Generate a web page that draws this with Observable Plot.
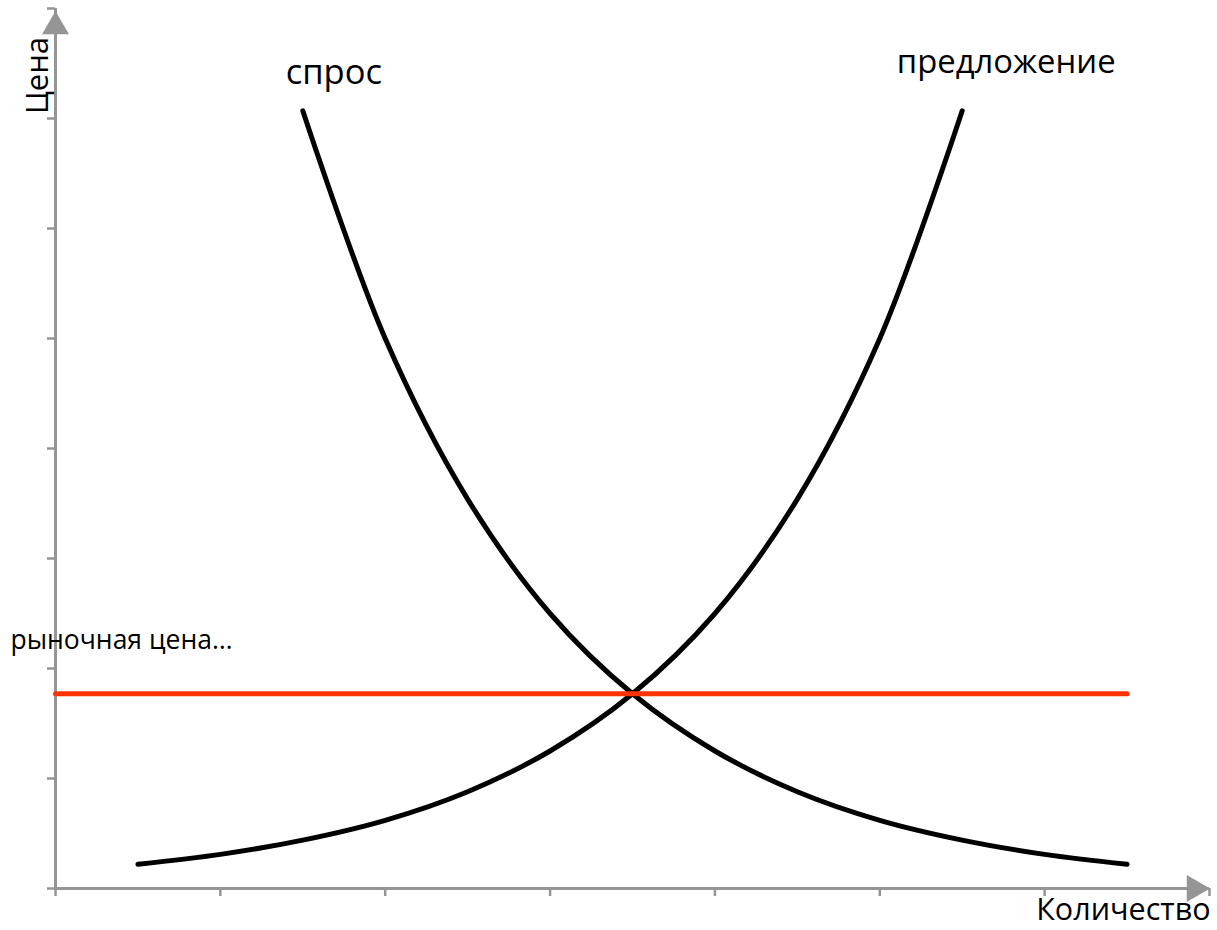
<!DOCTYPE html>
<html>
<head>
<meta charset="utf-8">
<script src="https://cdn.jsdelivr.net/npm/d3@7"></script>
<script src="https://cdn.jsdelivr.net/npm/@observablehq/plot@0.6"></script>
<style>
  html, body { margin: 0; padding: 0; background: #fff; }
  #chart svg { display: block; }
</style>
</head>
<body>
<div id="chart"></div>
<script>
// ---- data ----
const quantityDemand = [1.5, 2, 2.5, 3, 3.5, 4, 4.5, 5, 5.5, 6, 6.5];
const priceDemand    = [7.07, 5.0, 3.54, 2.5, 1.77, 1.25, 0.88, 0.62, 0.44, 0.31, 0.22];
const quantitySupply = [0.5, 1, 1.5, 2, 2.5, 3, 3.5, 4, 4.5, 5, 5.5];
const priceSupply    = [0.22, 0.31, 0.44, 0.62, 0.88, 1.25, 1.77, 2.5, 3.54, 5.0, 7.07];
const marketQuantity = [0, 6.5];
const marketPrice    = 1.77;
const xTicks = [0, 1, 2, 3, 4, 5, 6, 7];
const yTicks = [0, 1, 2, 3, 4, 5, 6, 7, 8];
const xTitle = "Количество";
const yTitle = "Цена";
const demandLabel = "спрос";
const supplyLabel = "предложение";
const marketLabel = "рыночная цена…";

// ---- tables built from the arrays ----
const demand = quantityDemand.map((q, i) => ({q, p: priceDemand[i]}));
const supply = quantitySupply.map((q, i) => ({q, p: priceSupply[i]}));
const market = marketQuantity.map(q => ({q, p: marketPrice}));
const xEnd = xTicks[xTicks.length - 1];
const yEnd = yTicks[yTicks.length - 1];

const axisGray = "#959595";
const font = "'Open Sans', sans-serif";

const chart = Plot.plot({
  width: 1217,
  height: 930,
  marginLeft: 55,
  marginRight: 8,
  marginTop: 8,
  marginBottom: 42,
  x: {domain: [0, xEnd]},
  y: {domain: [0, yEnd]},
  style: {fontFamily: font, background: "#fff", overflow: "visible", color: "#000"},
  marks: [
    Plot.axisX({ticks: xTicks, tickSize: 8, stroke: axisGray, strokeWidth: 2.5, fill: "none", label: null}),
    Plot.axisY({ticks: yTicks, tickSize: 8, stroke: axisGray, strokeWidth: 2.5, fill: "none", label: null}),
    Plot.ruleY([0], {stroke: axisGray, strokeWidth: 3}),
    Plot.ruleX([0], {stroke: axisGray, strokeWidth: 3}),
    Plot.dot([{q: xEnd, p: 0}], {x: "q", y: "p", symbol: "triangle", r: 10, rotate: 90, fill: axisGray, stroke: "none", dx: -15}),
    Plot.dot([{q: 0, p: yEnd}], {x: "q", y: "p", symbol: "triangle", r: 10, rotate: 0, fill: axisGray, stroke: "none", dy: 18}),
    Plot.line(demand, {x: "q", y: "p", curve: "catmull-rom", stroke: "#000", strokeWidth: 5, strokeLinecap: "round"}),
    Plot.line(supply, {x: "q", y: "p", curve: "catmull-rom", stroke: "#000", strokeWidth: 5, strokeLinecap: "round"}),
    Plot.line(market, {x: "q", y: "p", stroke: "#ff3300", strokeWidth: 5, strokeLinecap: "round"}),
    Plot.text([demand[0]], {x: "q", y: "p", text: () => demandLabel, fontSize: 34.5, fill: "#000", dx: 31, dy: -38}),
    Plot.text([supply[supply.length - 1]], {x: "q", y: "p", text: () => supplyLabel, fontSize: 32.8, fill: "#000", dx: 44, dy: -48}),
    Plot.text([market[0]], {x: "q", y: "p", text: () => marketLabel, fontSize: 26.5, fill: "#000", textAnchor: "start", lineAnchor: "middle", dx: -45, dy: -53}),
    Plot.text([yTitle], {frameAnchor: "top-left", text: d => d, rotate: -90, textAnchor: "middle", lineAnchor: "middle", fontSize: 31, fill: "#000", dx: -17, dy: 67}),
    Plot.text([xTitle], {frameAnchor: "bottom-right", text: d => d, textAnchor: "end", lineAnchor: "middle", fontSize: 30.5, fill: "#000", dx: 1, dy: 22})
  ]
});
document.getElementById("chart").appendChild(chart);
</script>
</body>
</html>
